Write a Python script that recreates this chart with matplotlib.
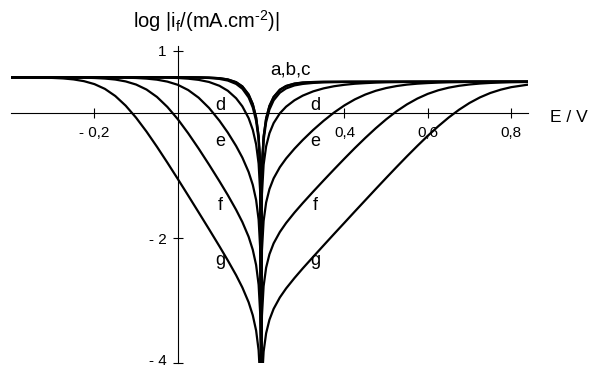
import matplotlib.pyplot as plt

plt.rcParams['font.family'] = ['Liberation Sans', 'DejaVu Sans']
plt.rcParams['mathtext.fontset'] = 'custom'
plt.rcParams['mathtext.rm'] = 'Liberation Sans'
plt.rcParams['mathtext.it'] = 'Liberation Sans:italic'

# potentiel E / V (points plus serres pres du potentiel d'equilibre 0,2 V)
E = [-0.40, -0.375, -0.35, -0.325, -0.30, -0.275, -0.25, -0.225, -0.20, -0.175,
     -0.15, -0.125, -0.10, -0.075, -0.05, -0.025, 0.00, 0.025, 0.05, 0.075,
     0.10, 0.12, 0.14, 0.155, 0.17, 0.18, 0.188, 0.194, 0.198, 0.20,
     0.202, 0.206, 0.212, 0.22, 0.23, 0.245, 0.26, 0.28, 0.30, 0.325,
     0.35, 0.375, 0.40, 0.425, 0.45, 0.475, 0.50, 0.525, 0.55, 0.575,
     0.60, 0.625, 0.65, 0.675, 0.70, 0.725, 0.75, 0.775, 0.80, 0.84]

# log |i_f / (mA.cm-2)| pour chaque courbe
log_a = [0.576, 0.576, 0.576, 0.576, 0.576, 0.576, 0.576, 0.576, 0.576, 0.576,
         0.576, 0.576, 0.576, 0.576, 0.576, 0.576, 0.576, 0.575, 0.575, 0.571,
         0.562, 0.542, 0.499, 0.431, 0.302, 0.148, -0.064, -0.363, -0.841, -4.0,
         -0.844, -0.372, -0.081, 0.120, 0.263, 0.379, 0.438, 0.476, 0.493, 0.501,
         0.504, 0.505, 0.505, 0.505, 0.505, 0.505, 0.505, 0.505, 0.505, 0.505,
         0.505, 0.505, 0.505, 0.505, 0.505, 0.505, 0.505, 0.505, 0.505, 0.505]
log_b = [0.576, 0.576, 0.576, 0.576, 0.576, 0.576, 0.576, 0.576, 0.576, 0.576,
         0.576, 0.576, 0.576, 0.576, 0.576, 0.576, 0.576, 0.575, 0.574, 0.571,
         0.561, 0.541, 0.496, 0.428, 0.298, 0.143, -0.069, -0.368, -0.846, -4.0,
         -0.849, -0.377, -0.087, 0.115, 0.258, 0.375, 0.435, 0.473, 0.491, 0.499,
         0.503, 0.504, 0.505, 0.505, 0.505, 0.505, 0.505, 0.505, 0.505, 0.505,
         0.505, 0.505, 0.505, 0.505, 0.505, 0.505, 0.505, 0.505, 0.505, 0.505]
log_c = [0.576, 0.576, 0.576, 0.576, 0.576, 0.576, 0.576, 0.576, 0.576, 0.576,
         0.576, 0.576, 0.576, 0.576, 0.576, 0.576, 0.575, 0.574, 0.571, 0.565,
         0.550, 0.524, 0.470, 0.393, 0.254, 0.093, -0.122, -0.423, -0.902, -4.0,
         -0.906, -0.434, -0.143, 0.060, 0.207, 0.330, 0.398, 0.446, 0.470, 0.486,
         0.494, 0.498, 0.501, 0.502, 0.503, 0.504, 0.504, 0.505, 0.505, 0.505,
         0.505, 0.505, 0.505, 0.505, 0.505, 0.505, 0.505, 0.505, 0.505, 0.505]
log_d = [0.576, 0.576, 0.576, 0.576, 0.576, 0.576, 0.576, 0.576, 0.576, 0.576,
         0.576, 0.576, 0.575, 0.575, 0.573, 0.570, 0.565, 0.554, 0.535, 0.501,
         0.440, 0.361, 0.241, 0.111, -0.077, -0.264, -0.496, -0.805, -1.288, -4.0,
         -1.294, -0.822, -0.530, -0.319, -0.157, 0.000, 0.106, 0.208, 0.283, 0.351,
         0.399, 0.433, 0.456, 0.473, 0.483, 0.491, 0.496, 0.499, 0.501, 0.502,
         0.504, 0.504, 0.505, 0.505, 0.505, 0.505, 0.505, 0.505, 0.505, 0.505]
log_e = [0.576, 0.576, 0.576, 0.576, 0.576, 0.576, 0.576, 0.576, 0.575, 0.575,
         0.573, 0.570, 0.565, 0.555, 0.538, 0.507, 0.456, 0.372, 0.250, 0.086,
         -0.119, -0.308, -0.523, -0.709, -0.939, -1.145, -1.387, -1.701, -2.186, -4.0,
         -2.193, -1.722, -1.428, -1.213, -1.041, -0.862, -0.723, -0.567, -0.427, -0.266,
         -0.120, 0.012, 0.127, 0.223, 0.300, 0.360, 0.404, 0.436, 0.459, 0.474,
         0.484, 0.491, 0.496, 0.499, 0.501, 0.503, 0.504, 0.504, 0.505, 0.505]
log_f = [0.576, 0.576, 0.576, 0.576, 0.575, 0.575, 0.573, 0.570, 0.565, 0.556,
         0.540, 0.510, 0.460, 0.380, 0.262, 0.102, -0.094, -0.320, -0.564, -0.821,
         -1.087, -1.308, -1.544, -1.740, -1.975, -2.184, -2.428, -2.743, -3.228, -4.0,
         -3.235, -2.765, -2.470, -2.255, -2.081, -1.899, -1.755, -1.589, -1.436, -1.253,
         -1.074, -0.898, -0.725, -0.556, -0.394, -0.240, -0.097, 0.032, 0.143, 0.236,
         0.311, 0.368, 0.410, 0.440, 0.461, 0.476, 0.486, 0.492, 0.497, 0.501]
log_g = [0.575, 0.575, 0.573, 0.571, 0.566, 0.558, 0.542, 0.514, 0.467, 0.391,
         0.277, 0.122, -0.071, -0.293, -0.535, -0.789, -1.050, -1.316, -1.584, -1.854,
         -2.128, -2.353, -2.590, -2.787, -3.023, -3.232, -3.476, -3.791, -4.276, -4.0,
         -4.284, -3.813, -3.519, -3.303, -3.129, -2.946, -2.802, -2.636, -2.481, -2.296,
         -2.113, -1.931, -1.751, -1.570, -1.391, -1.212, -1.035, -0.860, -0.688, -0.521,
         -0.360, -0.208, -0.068, 0.057, 0.165, 0.254, 0.325, 0.378, 0.418, 0.458]

# etiquettes des courbes (de part et d'autre du creux)
lettres = ['d', 'e', 'f', 'g']
lettres_y = [0.053, -0.516, -1.555, -2.432]
lettre_x_gauche = 0.103
lettre_x_droite = 0.330

xticks = [-0.2, 0.4, 0.6, 0.8]
xtick_labels = ['- 0,2', '0,4', '0,6', '0,8']
yticks = [1, -2, -4]
ytick_labels = ['1', '- 2', '']

W, H = 591, 368
fig = plt.figure(figsize=(W / 100, H / 100), dpi=100)
ax = fig.add_axes([11.1 / W, (H - 363.3) / H, 516.7 / W, 317.5 / H])
ax.set_xlim(-0.40, 0.84)
ax.set_ylim(-4, 1.08)

for courbe in [log_a, log_b, log_c, log_d, log_e, log_f, log_g]:
    ax.plot(E, courbe, color='black', lw=1.6, solid_joinstyle='round')

# axes qui se croisent a l'origine
ax.spines['left'].set_position(('data', 0))
ax.spines['bottom'].set_position(('data', 0))
ax.spines['top'].set_visible(False)
ax.spines['right'].set_visible(False)
for s in ['left', 'bottom']:
    ax.spines[s].set_linewidth(0.8)

ax.set_xticks(xticks)
ax.set_xticklabels(xtick_labels)
ax.set_yticks(yticks)
ax.set_yticklabels(ytick_labels)
ax.tick_params(direction='inout', length=7.5, width=0.8, labelsize=11)
ax.tick_params(axis='x', pad=5.5)
ax.tick_params(axis='y', pad=4.5)
# etiquette "- 4" posee a la main, un peu remontee pour rester dans l'image
ax.annotate('- 4', xy=(0, -4), xytext=(-8.25, 1.5), textcoords='offset points',
            ha='right', va='center', fontsize=11)

ax.text(0.271, 0.62, 'a,b,c', fontsize=13.5, ha='center', va='baseline')
for lettre, y in zip(lettres, lettres_y):
    ax.text(lettre_x_gauche, y, lettre, fontsize=13, ha='center', va='baseline')
    ax.text(lettre_x_droite, y, lettre, fontsize=13, ha='center', va='baseline')

fig.text(133 / W, 1 - 27.3 / H, 'log |i$_\\mathregular{f}$/(mA.cm$^\\mathregular{\u2010 2}$)|',
         fontsize=14.5, ha='left', va='baseline')
fig.text(550 / W, 1 - 122 / H, 'E / V', fontsize=12.5, ha='left', va='baseline')

fig.savefig('out.png', dpi=100)
